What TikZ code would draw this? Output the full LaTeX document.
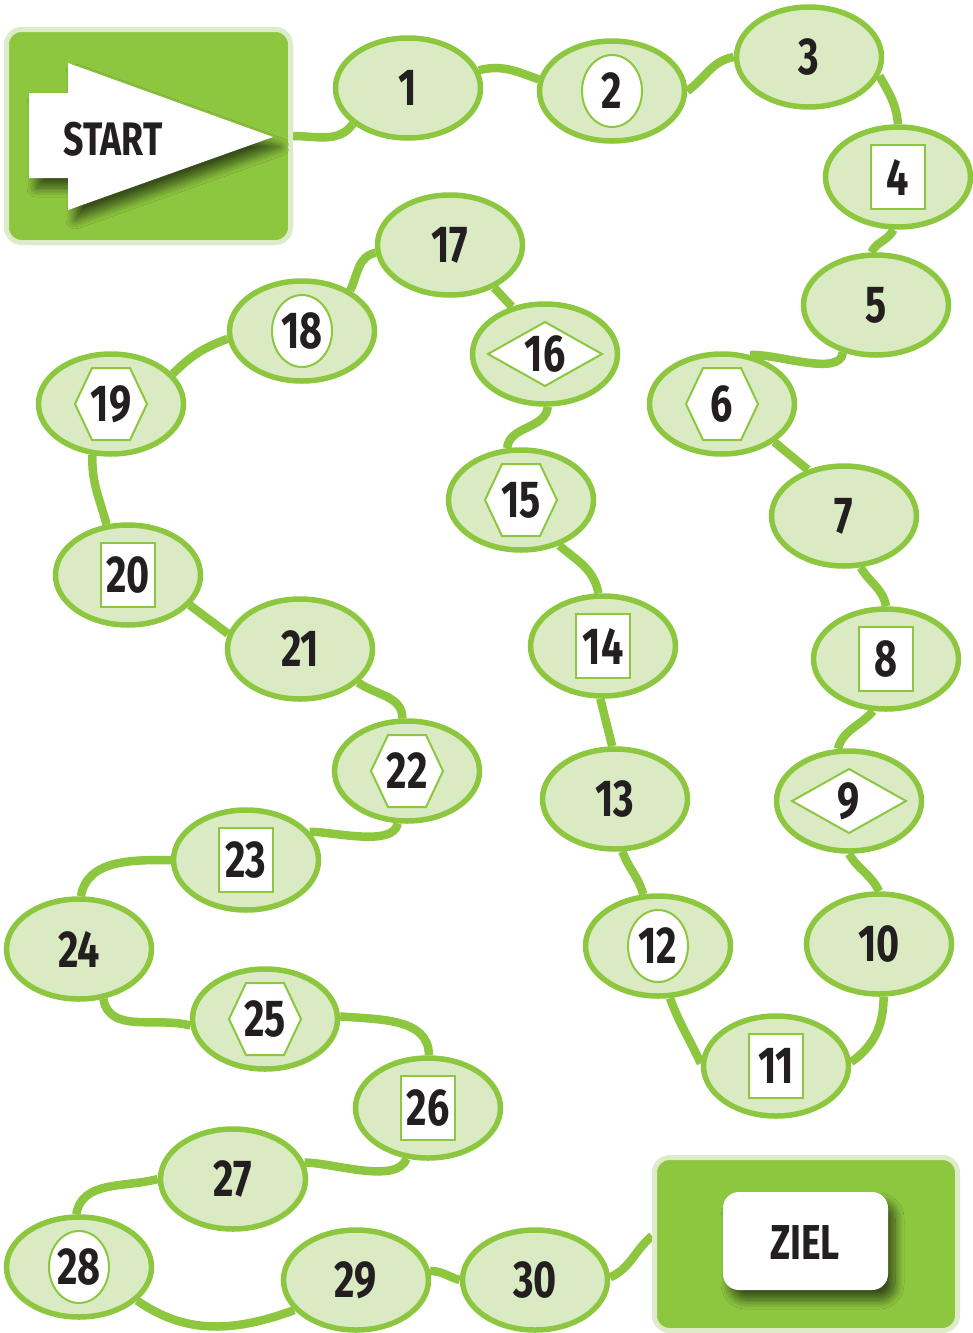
\documentclass[tikz,border=0pt]{standalone}
\usepackage{fontspec}
\newfontfamily\gamefont[FakeStretch=0.76]{Fira Sans}
\usetikzlibrary{shapes.geometric,shadows.blur}
\definecolor{ggreen}{HTML}{8DC63F}
\definecolor{glight}{HTML}{DAEAC3}
\definecolor{gborder}{HTML}{DDEBC9}
\definecolor{ink}{HTML}{231F20}
\pgfdeclarelayer{bg}
\pgfsetlayers{bg,main}
\tikzset{
  field/.style={ellipse, draw=ggreen, fill=glight, line width=5.5pt, minimum width=145pt, minimum height=100pt, inner sep=0pt},
  sqbox/.style={rectangle, draw=ggreen, fill=white, line width=2pt, minimum width=54pt, minimum height=64pt, inner sep=0pt},
  ovbox/.style={ellipse, draw=ggreen, fill=white, line width=2pt, minimum width=60pt, minimum height=72pt, inner sep=0pt},
  inshape/.style={draw=ggreen, fill=white, line width=2pt},
  num/.style={font=\gamefont\bfseries\fontsize{52}{52}\selectfont, text=ink, inner sep=0pt},
  trail/.style={draw=ggreen, line width=8.5pt},
  goalbox/.style={draw=gborder, fill=ggreen, line width=5pt, rounded corners=15pt, inner sep=0pt},
  softshadow/.style={blur shadow={shadow xshift=7pt, shadow yshift=-10pt, shadow blur radius=9pt, shadow blur steps=12, shadow opacity=60}},
  blank/.pic={},
  ovl/.pic={\node[ovbox] {};},
  sqr/.pic={\node[sqbox] {};},
  hexa/.pic={\path[inshape] (-36,0)--(-19,36)--(19,36)--(36,0)--(19,-36)--(-19,-36)--cycle;},
  dia/.pic={\path[inshape] (-57,0)--(0,32)--(57,0)--(0,-32)--cycle;}
}
\begin{document}
\begin{tikzpicture}[x=1pt,y=1pt]
\useasboundingbox (0,0) rectangle (973,-1333);

% START box
\node[goalbox, minimum width=284pt, minimum height=213pt] (start) at (148.5,-136) {};
\path[fill=white, softshadow] (29,-93) -- (68,-93) -- (68,-63) -- (273,-137) -- (68,-210) -- (68,-178) -- (29,-178) -- cycle;
\node[num, font=\gamefont\bfseries\fontsize{47}{47}\selectfont] (starttext) at (113,-139) {START};

% ZIEL box
\node[goalbox, minimum width=303pt, minimum height=173pt] (ziel) at (806,-1244) {};
\node[fill=white, rounded corners=16pt, minimum width=165pt, minimum height=98pt, inner sep=0pt, softshadow] (zielbox) at (805.5,-1241) {};
\node[num, font=\gamefont\bfseries\fontsize{49}{49}\selectfont] (zieltext) at (805,-1243) {ZIEL};

% fields
\foreach \n/\x/\y/\k in {
  1/408/88/blank, 2/612/91/ovl, 3/809/57/blank, 4/898/177/sqr, 5/876/305/blank,
  6/722/404/hexa, 7/844/516/blank, 8/886/659/sqr, 9/849/801/dia, 10/879/944/blank,
  11/776/1066/sqr, 12/658/946/ovl, 13/615/799/blank, 14/603/646/sqr, 15/521/500/hexa,
  16/545/354/dia, 17/450/245/blank, 18/302/331/ovl, 19/111/404/hexa, 20/128/575/sqr,
  21/300/649/blank, 22/407/771/hexa, 23/246/860/sqr, 24/79/949/blank, 25/265/1019/hexa,
  26/428/1108/sqr, 27/233/1179/blank, 28/79/1267/ovl, 29/356/1280/blank, 30/535/1280/blank}{
  \node[field] (n\n) at (\x,-\y) {};
  \pic at (n\n) {\k};
  \node[num] (t\n) at (n\n) {\n};
}

% connectors
\begin{pgfonlayer}{bg}
\draw[trail] (start.east) to[out=0,in=235] (n1.213);
\draw[trail] (n1.14) to[out=15,in=160] (n2.171);
\draw[trail] (n2.0) to[out=35,in=190] (n3.180);
\draw[trail] (n3.-15) to[out=-60,in=95] (n4.90);
\draw[trail] (n4.-95) to[out=-115,in=65] (n5.95);
\draw[trail] (n5.-125) to[out=-95,in=5,looseness=0.7] (n6.60);
\draw[trail] (n6.-36) -- (n7.128);
\draw[trail] (n7.-72) to[out=-60,in=100] (n8.90);
\draw[trail] (n8.-104) to[out=-130,in=75] (n9.102);
\draw[trail] (n9.-90) to[out=-60,in=115] (n10.90);
\draw[trail] (n10.-85) to[out=-90,in=35] (n11.3);
\draw[trail] (n11.178) to[out=115,in=-70] (n12.-77);
\draw[trail] (n12.106) to[out=105,in=-70] (n13.-82);
\draw[trail] (n13.93) -- (n14.-93);
\draw[trail] (n14.95) to[out=100,in=-40] (n15.-50);
\draw[trail] (n15.105) to[out=85,in=-95] (n16.-87);
\draw[trail] (n16.125) -- (n17.-44);
\draw[trail] (n17.186) to[out=190,in=65] (n18.40);
\draw[trail] (n18.186) to[out=200,in=45] (n19.26);
\draw[trail] (n19.-110) to[out=-92,in=105] (n20.113);
\draw[trail] (n20.-26) -- (n21.168);
\draw[trail] (n21.-30) to[out=-35,in=90] (n22.95);
\draw[trail] (n22.-100) to[out=-100,in=0,looseness=0.7] (n23.24);
\draw[trail] (n23.180) to[out=180,in=80] (n24.88);
\draw[trail] (n24.-64) to[out=-80,in=165] (n25.185);
\draw[trail] (n25.2) to[out=-5,in=90] (n26.89);
\draw[trail] (n26.-113) to[out=-110,in=0,looseness=0.7] (n27.13);
\draw[trail] (n27.180) to[out=195,in=80] (n28.93);
\draw[trail] (n28.-30) to[out=-35,in=200] (n29.206);
\draw[trail] (n29.7) to[out=0,in=165] (n30.180);
\draw[trail] (n30.2) to[out=25,in=220] (ziel.177);
\end{pgfonlayer}
\end{tikzpicture}
\end{document}
